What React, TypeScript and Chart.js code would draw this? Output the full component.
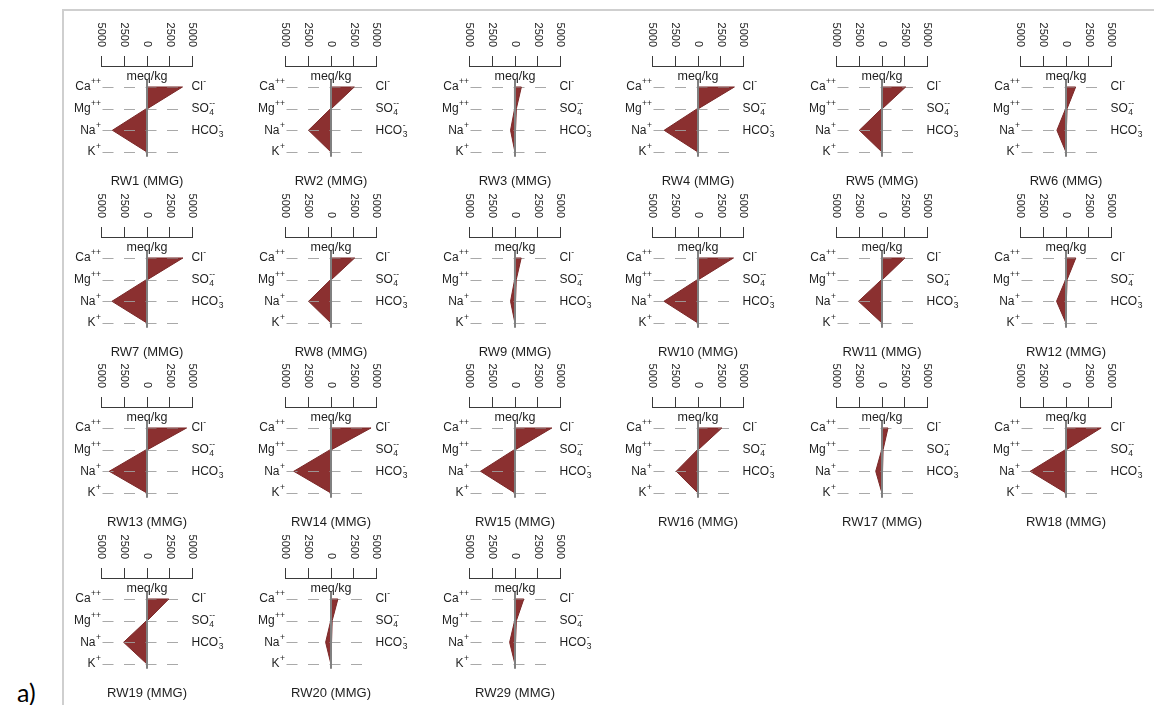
import React, { useEffect, useRef } from 'react';
import { Chart, registerables } from 'chart.js';

Chart.register(...registerables);

// ---------- data (meq/kg) ----------
const samples = [
  'RW1 (MMG)', 'RW2 (MMG)', 'RW3 (MMG)', 'RW4 (MMG)', 'RW5 (MMG)', 'RW6 (MMG)',
  'RW7 (MMG)', 'RW8 (MMG)', 'RW9 (MMG)', 'RW10 (MMG)', 'RW11 (MMG)', 'RW12 (MMG)',
  'RW13 (MMG)', 'RW14 (MMG)', 'RW15 (MMG)', 'RW16 (MMG)', 'RW17 (MMG)', 'RW18 (MMG)',
  'RW19 (MMG)', 'RW20 (MMG)', 'RW29 (MMG)',
];
const clValues = [3900, 2560, 700, 4000, 2600, 1060, 3950, 2600, 680, 3900, 2520, 1080, 4350, 4400, 4050, 2620, 660, 3860, 2400, 760, 970];
const so4Values = [50, 40, 150, 50, 40, 120, 50, 40, 140, 50, 40, 120, 60, 60, 50, 40, 120, 50, 40, 130, 150];
const hco3Values = [20, 20, 60, 20, 20, 40, 20, 20, 60, 20, 20, 40, 20, 20, 20, 20, 60, 20, 20, 60, 60];
const caValues = [40, 30, 60, 40, 30, 50, 40, 30, 60, 40, 30, 50, 45, 45, 40, 30, 40, 40, 30, 50, 50];
const mgValues = [70, 50, 40, 70, 50, 40, 70, 50, 40, 70, 50, 40, 80, 80, 70, 50, 30, 70, 50, 30, 40];
const naValues = [3800, 2470, 490, 3720, 2490, 1000, 3850, 2460, 490, 3740, 2580, 1040, 4150, 4090, 3790, 2390, 690, 3940, 2570, 590, 590];
const kValues = [20, 15, 10, 20, 15, 10, 20, 15, 10, 20, 15, 10, 25, 25, 20, 15, 10, 20, 15, 10, 10];

const axisTicks = [-5000, -2500, 0, 2500, 5000];
const rowIndex = [0, 1, 2, 3];
const cationLabels = [
  { base: 'Ca', sup: '++', sub: '' },
  { base: 'Mg', sup: '++', sub: '' },
  { base: 'Na', sup: '+', sub: '' },
  { base: 'K', sup: '+', sub: '' },
];
const anionLabels = [
  { base: 'Cl', sup: '-', sub: '' },
  { base: 'SO', sup: '--', sub: '4' },
  { base: 'HCO', sup: '-', sub: '3' },
];
const unitLabel = 'meq/kg';

// ---------- layout ----------
const PANEL_W = 184;
const PANEL_H = 180;
const AXIS_IN_PANEL = 56;
const COL_STEP = 183.8;
const ROW_STEP = 170.7;
const ZERO_X0 = 147;
const AXIS_Y0 = 66;
const COLS = 6;

const FONT = '"Liberation Sans", Arial, sans-serif';

function drawIon(ctx: CanvasRenderingContext2D, x: number, y: number, lab: { base: string; sup: string; sub: string }, align: 'left' | 'right') {
  ctx.save();
  ctx.textBaseline = 'middle';
  ctx.textAlign = 'left';
  ctx.font = `12px ${FONT}`;
  const bw = ctx.measureText(lab.base).width;
  ctx.font = `8.5px ${FONT}`;
  const sw = Math.max(ctx.measureText(lab.sup).width, lab.sub ? ctx.measureText(lab.sub).width : 0);
  const total = bw + sw;
  const sx = align === 'right' ? x - total : x;
  ctx.font = `12px ${FONT}`;
  ctx.fillText(lab.base, sx, y);
  ctx.font = `8.5px ${FONT}`;
  ctx.fillText(lab.sup, sx + bw + 0.5, y - 5);
  if (lab.sub) ctx.fillText(lab.sub, sx + bw + 0.5, y + 4.5);
  ctx.restore();
}

const stiffPlugin = {
  id: 'stiffDecor',
  beforeDatasetsDraw(chart: any) {
    const { ctx, chartArea, scales } = chart;
    const y = scales.y;
    ctx.save();
    ctx.strokeStyle = 'rgba(160,160,160,0.9)';
    ctx.lineWidth = 1;
    ctx.setLineDash([11, 10.5]);
    rowIndex.forEach((r) => {
      const py = Math.round(y.getPixelForValue(r)) + 0.5;
      ctx.beginPath();
      ctx.moveTo(chartArea.left + 1, py);
      ctx.lineTo(chartArea.right - 11, py);
      ctx.stroke();
    });
    ctx.restore();
  },
  afterDraw(chart: any, _args: any, opts: any) {
    const { ctx, chartArea, scales } = chart;
    const x = scales.x;
    const y = scales.y;
    const x0 = x.getPixelForValue(0);
    ctx.save();
    ctx.fillStyle = '#1e1e1e';
    // rotated tick labels
    ctx.font = `11px ${FONT}`;
    axisTicks.forEach((v) => {
      const px = x.getPixelForValue(v);
      ctx.save();
      ctx.translate(px, chartArea.top - 19);
      ctx.rotate(Math.PI / 2);
      ctx.textAlign = 'right';
      ctx.textBaseline = 'middle';
      ctx.fillText(String(Math.abs(v)), 0, 0);
      ctx.restore();
    });
    // unit label
    ctx.font = `12.5px ${FONT}`;
    ctx.textAlign = 'center';
    ctx.textBaseline = 'middle';
    ctx.fillText(unitLabel, x0, y.getPixelForValue(-0.48));
    // ion labels
    cationLabels.forEach((lab, r) => drawIon(ctx, chartArea.left - 1, y.getPixelForValue(r), lab, 'right'));
    anionLabels.forEach((lab, r) => drawIon(ctx, chartArea.right - 1, y.getPixelForValue(r), lab, 'left'));
    // sample title
    ctx.font = `13px ${FONT}`;
    ctx.textAlign = 'center';
    ctx.textBaseline = 'middle';
    ctx.fillText(opts.title, x0, chartArea.top + 115);
    ctx.restore();
  },
};

function StiffPanel({ index }: { index: number }) {
  const ref = useRef<HTMLCanvasElement>(null);
  useEffect(() => {
    const i = index;
    const polygon = [
      { x: -caValues[i], y: 0 },
      { x: clValues[i], y: 0 },
      { x: so4Values[i], y: 1 },
      { x: hco3Values[i], y: 2 },
      { x: 0, y: 3 },
      { x: -kValues[i], y: 3 },
      { x: -naValues[i], y: 2 },
      { x: -mgValues[i], y: 1 },
      { x: -caValues[i], y: 0 },
    ];
    const zeroLine = [
      { x: 0, y: -0.32 },
      { x: 0, y: 3.22 },
    ];
    const chart = new Chart(ref.current as HTMLCanvasElement, {
      type: 'scatter',
      data: {
        datasets: [
          {
            data: zeroLine,
            showLine: true,
            borderColor: '#808080',
            borderWidth: 2,
            pointRadius: 0,
            fill: false,
            order: 0,
          } as any,
          {
            data: polygon,
            showLine: true,
            fill: 'shape',
            backgroundColor: '#8b3030',
            borderColor: '#7a2828',
            borderWidth: 1,
            pointRadius: 0,
            tension: 0,
            order: 1,
          } as any,
        ],
      },
      options: {
        animation: false,
        responsive: false,
        events: [],
        layout: { padding: { left: 46.5, right: 46.5, top: 46, bottom: 32 } },
        plugins: {
          legend: { display: false },
          tooltip: { enabled: false },
          title: { display: false },
          filler: { drawTime: 'beforeDatasetsDraw' },
          stiffDecor: { title: samples[i] },
        } as any,
        scales: {
          x: {
            type: 'linear',
            position: 'top',
            min: -5000,
            max: 5000,
            afterBuildTicks: (scale: any) => {
              scale.ticks = axisTicks.map((v) => ({ value: v }));
            },
            ticks: { display: false },
            grid: { drawOnChartArea: false, drawTicks: true, tickLength: 10, color: '#3a3a3a', lineWidth: 1 },
            border: { display: true, color: '#3a3a3a', width: 1 },
          },
          y: {
            type: 'linear',
            display: false,
            reverse: true,
            min: -0.97,
            max: 3.28,
          },
        },
      },
      plugins: [stiffPlugin as any],
    });
    return () => chart.destroy();
  }, [index]);

  const col = index % COLS;
  const row = Math.floor(index / COLS);
  const left = Math.round(ZERO_X0 + col * COL_STEP - PANEL_W / 2);
  const top = Math.round(AXIS_Y0 + row * ROW_STEP - AXIS_IN_PANEL);
  return (
    <canvas
      ref={ref}
      width={PANEL_W}
      height={PANEL_H}
      style={{ position: 'absolute', left, top, width: PANEL_W, height: PANEL_H }}
    />
  );
}

export default function App() {
  return (
    <div style={{ position: 'absolute', left: 0, top: 0, width: 1154, height: 705, overflow: 'hidden', background: '#ffffff' }}>
      <div
        style={{
          position: 'absolute',
          left: 62,
          top: 9,
          width: 1100,
          height: 710,
          borderLeft: '2px solid #cfcfcf',
          borderTop: '2px solid #cfcfcf',
          boxSizing: 'border-box',
        }}
      />
      <div
        style={{
          position: 'absolute',
          left: 17,
          top: 680,
          fontFamily: 'Lato, "Open Sans", sans-serif',
          fontSize: 25,
          lineHeight: 1,
          color: '#000',
        }}
      >
        a)
      </div>
      {samples.map((_, i) => (
        <StiffPanel key={i} index={i} />
      ))}
    </div>
  );
}
